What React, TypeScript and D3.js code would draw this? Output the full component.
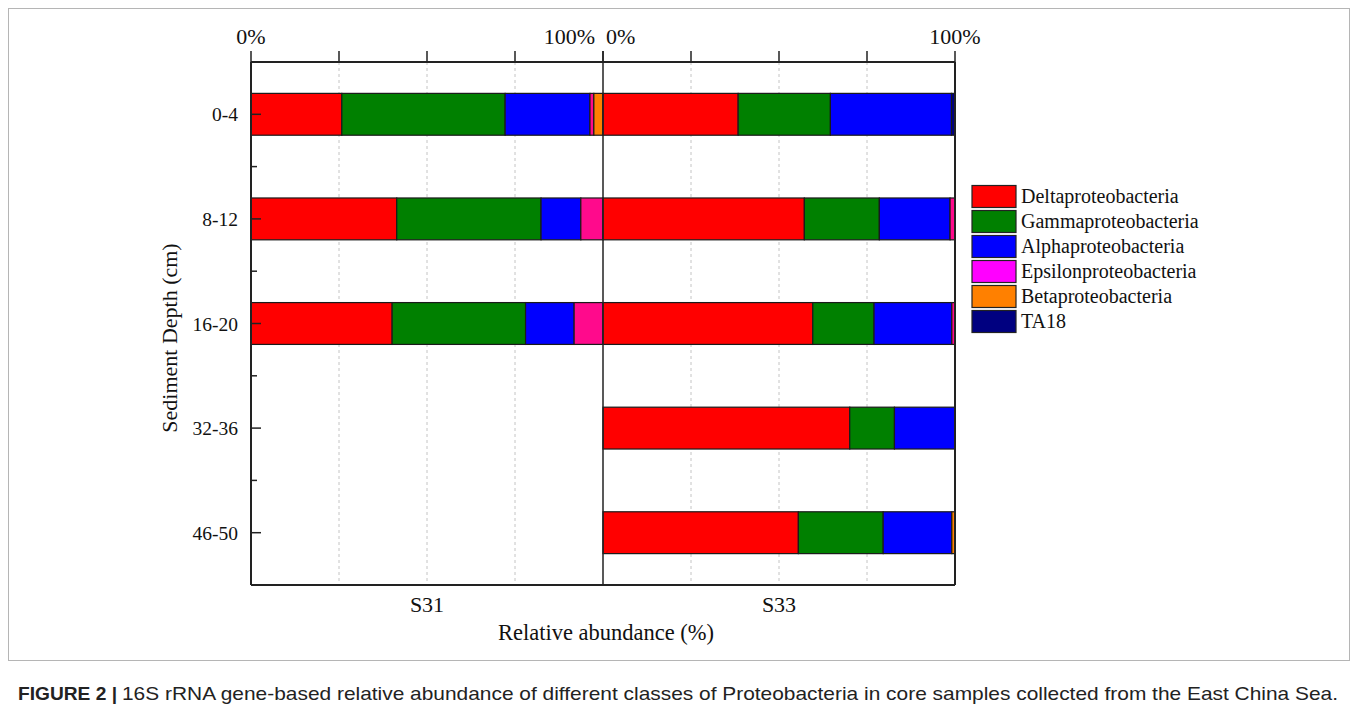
import React from "react";
import * as d3 from "d3";

// Sampling depths (cm) and proteobacterial classes
const depths = ["0-4", "8-12", "16-20", "32-36", "46-50"];
const classes = [
  "Deltaproteobacteria",
  "Gammaproteobacteria",
  "Alphaproteobacteria",
  "Epsilonproteobacteria",
  "Betaproteobacteria",
  "TA18",
];
const stations = ["S31", "S33"];
const pctTicks = [0, 25, 50, 75, 100];

// Relative abundance (%) per class, station S31 (cores 0-4, 8-12, 16-20)
const s31Delta = [25.8, 41.4, 40.1];
const s31Gamma = [46.4, 41.0, 37.9];
const s31Alpha = [24.1, 11.3, 13.8];
const s31Epsilon = [1.1, 6.3, 8.2];
const s31Beta = [2.6, 0, 0];
const s31TA18 = [0, 0, 0];

// Relative abundance (%) per class, station S33 (all five depths)
const s33Delta = [38.4, 57.2, 59.6, 70.1, 55.5];
const s33Gamma = [26.2, 21.3, 17.4, 12.7, 24.1];
const s33Alpha = [34.4, 20.1, 22.1, 17.2, 19.5];
const s33Epsilon = [0, 1.4, 0.9, 0, 0];
const s33Beta = [0, 0, 0, 0, 0.9];
const s33TA18 = [1.0, 0, 0, 0, 0];

const barColors = ["#ff0000", "#008000", "#0000ff", "#ff0a8c", "#ff8000", "#000080"];
const legendColors = ["#ff0000", "#008000", "#0000ff", "#ff00ff", "#ff8000", "#000080"];

type Row = { depth: string; [k: string]: number | string };

function buildRows(series: number[][]): Row[] {
  const n = series[0].length;
  const rows: Row[] = [];
  for (let i = 0; i < n; i++) {
    const r: Row = { depth: depths[i] };
    classes.forEach((c, k) => (r[c] = series[k][i]));
    rows.push(r);
  }
  return rows;
}

const stationRows = [
  buildRows([s31Delta, s31Gamma, s31Alpha, s31Epsilon, s31Beta, s31TA18]),
  buildRows([s33Delta, s33Gamma, s33Alpha, s33Epsilon, s33Beta, s33TA18]),
];

const SERIF = "'Liberation Serif', 'Times New Roman', serif";
const SANS = "'Liberation Sans Narrow', 'Liberation Sans', Arial, sans-serif";

export default function App() {
  const W = 1357;
  const H = 712;
  const left = 251;
  const mid = 603;
  const right = 955;
  const top = 62;
  const bottom = 585;

  const xScales = [
    d3.scaleLinear().domain([0, 100]).range([left, mid]),
    d3.scaleLinear().domain([0, 100]).range([mid, right]),
  ];
  const y = d3.scalePoint<string>().domain(depths).range([top, bottom]).padding(0.5);
  const step = y.step();
  const barH = step * 0.4;
  const stack = d3.stack<Row>().keys(classes).value((d, k) => d[k] as number);

  const minorYs = depths.slice(0, -1).map((d) => (y(d) as number) + step / 2);

  return (
    <svg
      width={W}
      height={H}
      style={{ position: "absolute", left: 0, top: 0, background: "#fff" }}
    >
      {/* figure frame */}
      <rect x={8.5} y={8.5} width={1341} height={652} fill="none" stroke="#b5b5b5" strokeWidth={1} />

      {/* dashed vertical gridlines */}
      {xScales.map((x, si) =>
        pctTicks
          .filter((t) => t > 0 && t < 100)
          .map((t) => (
            <line
              key={`g${si}-${t}`}
              x1={x(t)}
              x2={x(t)}
              y1={top}
              y2={bottom}
              stroke="#c4c4c4"
              strokeDasharray="3,3"
              strokeWidth={1}
            />
          ))
      )}

      {/* stacked bars */}
      {stationRows.map((rows, si) => {
        const x = xScales[si];
        const layers = stack(rows);
        return (
          <g key={`s${si}`}>
            {layers.map((layer, k) =>
              layer.map((seg) => {
                const w = x(seg[1]) - x(seg[0]);
                if (w <= 0) return null;
                return (
                  <rect
                    key={`${k}-${seg.data.depth}`}
                    x={x(seg[0])}
                    y={(y(seg.data.depth as string) as number) - barH / 2}
                    width={w}
                    height={barH}
                    fill={barColors[k]}
                    stroke="#1a1a1a"
                    strokeWidth={1.2}
                  />
                );
              })
            )}
          </g>
        );
      })}

      {/* plot frame */}
      <line x1={left} x2={right} y1={top} y2={top} stroke="#222" strokeWidth={2} />
      <line x1={left} x2={right} y1={bottom} y2={bottom} stroke="#222" strokeWidth={2} />
      <line x1={left} x2={left} y1={top} y2={bottom} stroke="#222" strokeWidth={2} />
      <line x1={right} x2={right} y1={top} y2={bottom} stroke="#222" strokeWidth={2} />
      <line x1={mid} x2={mid} y1={top} y2={bottom} stroke="#222" strokeWidth={1.5} />

      {/* top axis ticks */}
      {xScales.map((x, si) =>
        pctTicks.map((t) => (
          <line
            key={`t${si}-${t}`}
            x1={x(t)}
            x2={x(t)}
            y1={top - 11}
            y2={top}
            stroke="#222"
            strokeWidth={1.5}
          />
        ))
      )}

      {/* top axis labels */}
      {xScales.map((x, si) => {
        const x0 = si === 0 ? x(0) : x(0) + 3;
        const a0 = si === 0 ? "middle" : "start";
        const x100 = si === 0 ? x(100) - 8 : x(100);
        const a100 = si === 0 ? "end" : "middle";
        return (
          <g key={`tl${si}`} fontFamily={SERIF} fontSize={22} fill="#111">
            <text x={x0} y={44} textAnchor={a0}>0%</text>
            <text x={x100} y={44} textAnchor={a100}>100%</text>
          </g>
        );
      })}

      {/* left axis ticks and labels */}
      {depths.map((d) => (
        <g key={`y${d}`}>
          <line x1={left} x2={left + 10} y1={y(d)} y2={y(d)} stroke="#222" strokeWidth={1.5} />
          <text
            x={238}
            y={(y(d) as number) + 7}
            textAnchor="end"
            fontFamily={SERIF}
            fontSize={19.5}
            fill="#111"
          >
            {d}
          </text>
        </g>
      ))}
      {minorYs.map((v, i) => (
        <line key={`m${i}`} x1={left} x2={left + 6} y1={v} y2={v} stroke="#222" strokeWidth={1.5} />
      ))}

      {/* axis titles */}
      <text
        transform="translate(177,338) rotate(-90)"
        textAnchor="middle"
        fontFamily={SERIF}
        fontSize={22}
        fill="#111"
      >
        Sediment Depth (cm)
      </text>
      {stations.map((s, si) => (
        <text
          key={s}
          x={xScales[si](50)}
          y={612}
          textAnchor="middle"
          fontFamily={SERIF}
          fontSize={22}
          fill="#111"
        >
          {s}
        </text>
      ))}
      <text x={606} y={640} textAnchor="middle" fontFamily={SERIF} fontSize={22.5} fill="#111">
        Relative abundance (%)
      </text>

      {/* legend */}
      {classes.map((c, k) => {
        const cy = 196.5 + k * 25;
        return (
          <g key={c}>
            <rect x={972} y={cy - 11} width={44} height={22} fill={legendColors[k]} stroke="#222" strokeWidth={1.2} />
            <text x={1021} y={cy + 6} fontFamily={SERIF} fontSize={20} fill="#111">
              {c}
            </text>
          </g>
        );
      })}

      {/* caption */}
      <text
        x={18}
        y={700}
        fontFamily={SANS}
        fontSize={19}
        fontWeight="bold"
        fill="#222"
        textLength={99}
        lengthAdjust="spacingAndGlyphs"
      >
        FIGURE 2 |
      </text>
      <text
        x={122}
        y={700}
        fontFamily={SANS}
        fontSize={19}
        fill="#222"
        textLength={1216}
        lengthAdjust="spacingAndGlyphs"
      >
        16S rRNA gene-based relative abundance of different classes of Proteobacteria in core samples collected from the East China Sea.
      </text>
    </svg>
  );
}
